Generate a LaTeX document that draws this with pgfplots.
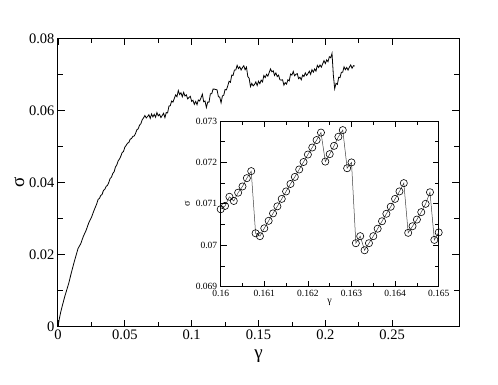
\documentclass[border=0pt]{standalone}
\usepackage{fontspec}
\setmainfont{Liberation Serif}
\usepackage{pgfplots}
\pgfplotsset{compat=1.18}

\pgfplotstableread{
x y
0 0
0.001 0.0022
0.002 0.0040
0.003 0.0055
0.005 0.0083
0.008 0.0120
0.010 0.0150
0.012 0.0178
0.015 0.0217
0.017 0.0230
0.019 0.0251
0.021 0.0267
0.023 0.0288
0.025 0.0303
0.027 0.0323
0.029 0.0341
0.030 0.0353
0.031 0.0356
0.032 0.0364
0.033 0.0367
0.034 0.0378
0.035 0.0381
0.036 0.0389
0.037 0.0392
0.038 0.0400
0.039 0.0411
0.040 0.0415
0.041 0.0425
0.042 0.0430
0.043 0.0443
0.044 0.0449
0.045 0.0460
0.046 0.0465
0.047 0.0473
0.048 0.0483
0.049 0.0486
0.050 0.0498
0.051 0.0503
0.052 0.0509
0.053 0.0511
0.054 0.0520
0.055 0.0522
0.056 0.0528
0.057 0.0529
0.058 0.0536
0.059 0.0546
0.060 0.0549
0.061 0.0559
0.062 0.0563
0.063 0.0574
0.064 0.0579
0.065 0.0586
0.066 0.0579
0.067 0.0583
0.068 0.0588
0.069 0.0578
0.070 0.0590
0.071 0.0582
0.072 0.0589
0.073 0.0581
0.074 0.0594
0.075 0.0585
0.076 0.0589
0.077 0.0580
0.078 0.0586
0.079 0.0592
0.080 0.0580
0.081 0.0594
0.082 0.0593
0.083 0.0612
0.084 0.0613
0.085 0.0626
0.086 0.0623
0.087 0.0633
0.088 0.0643
0.089 0.0638
0.090 0.0655
0.091 0.0644
0.092 0.0649
0.093 0.0638
0.094 0.0650
0.095 0.0640
0.096 0.0643
0.097 0.0632
0.098 0.0636
0.099 0.0639
0.100 0.0625
0.101 0.0628
0.102 0.0617
0.103 0.0625
0.104 0.0616
0.105 0.0629
0.106 0.0626
0.107 0.0635
0.108 0.0645
0.109 0.0624
0.110 0.0626
0.111 0.0608
0.112 0.0623
0.113 0.0623
0.114 0.0646
0.115 0.0646
0.116 0.0659
0.117 0.0659
0.118 0.0658
0.119 0.0657
0.120 0.0638
0.121 0.0637
0.122 0.0621
0.123 0.0640
0.124 0.0642
0.125 0.0658
0.126 0.0657
0.127 0.0668
0.128 0.0681
0.129 0.0678
0.130 0.0698
0.131 0.0697
0.132 0.0712
0.133 0.0712
0.134 0.0725
0.135 0.0716
0.136 0.0721
0.137 0.0712
0.138 0.0719
0.139 0.0724
0.140 0.0713
0.141 0.0720
0.142 0.0694
0.143 0.0689
0.144 0.0666
0.145 0.0675
0.146 0.0668
0.147 0.0672
0.148 0.0679
0.149 0.0669
0.150 0.0681
0.151 0.0674
0.152 0.0684
0.153 0.0679
0.154 0.0697
0.155 0.0691
0.156 0.0700
0.157 0.0695
0.158 0.0705
0.159 0.0715
0.160 0.0707
0.161 0.0710
0.162 0.0697
0.163 0.0704
0.164 0.0694
0.165 0.0698
0.166 0.0685
0.167 0.0684
0.168 0.0685
0.169 0.0670
0.170 0.0677
0.171 0.0673
0.172 0.0685
0.173 0.0682
0.174 0.0701
0.175 0.0698
0.176 0.0708
0.177 0.0696
0.178 0.0700
0.179 0.0702
0.180 0.0688
0.181 0.0692
0.182 0.0685
0.183 0.0698
0.184 0.0694
0.185 0.0704
0.186 0.0697
0.187 0.0702
0.188 0.0709
0.189 0.0700
0.190 0.0713
0.191 0.0706
0.192 0.0715
0.193 0.0709
0.194 0.0725
0.195 0.0719
0.196 0.0726
0.197 0.0720
0.198 0.0729
0.199 0.0738
0.200 0.0730
0.201 0.0740
0.202 0.0735
0.203 0.0749
0.204 0.0746
0.205 0.0758
0.206 0.0698
0.207 0.0660
0.208 0.0675
0.209 0.0672
0.210 0.0692
0.211 0.0691
0.212 0.0706
0.213 0.0706
0.214 0.0721
0.215 0.0713
0.216 0.0719
0.217 0.0712
0.218 0.0720
0.219 0.0726
0.220 0.0717
0.221 0.0724
0.222 0.0723
}\mainData

\pgfplotstableread{
x y
0.1600 0.07087
0.1601 0.07095
0.1602 0.07117
0.1603 0.07107
0.1604 0.07127
0.1605 0.07142
0.1606 0.07162
0.1607 0.07179
0.1608 0.07029
0.1609 0.07022
0.1610 0.07041
0.1611 0.07059
0.1612 0.07077
0.1613 0.07094
0.1614 0.07112
0.1615 0.07130
0.1616 0.07148
0.1617 0.07165
0.1618 0.07183
0.1619 0.07201
0.1620 0.07219
0.1621 0.07236
0.1622 0.07254
0.1623 0.07272
0.1624 0.07202
0.1625 0.07220
0.1626 0.07240
0.1627 0.07262
0.1628 0.07278
0.1629 0.07186
0.1630 0.07200
0.1631 0.07005
0.1632 0.07022
0.1633 0.06988
0.1634 0.07005
0.1635 0.07022
0.1636 0.07040
0.1637 0.07058
0.1638 0.07076
0.1639 0.07093
0.1640 0.07112
0.1641 0.07130
0.1642 0.07150
0.1643 0.07030
0.1644 0.07046
0.1645 0.07062
0.1646 0.07080
0.1647 0.07100
0.1648 0.07128
0.1649 0.07013
0.1650 0.07031
}\insetData

\begin{document}
\begin{tikzpicture}
\useasboundingbox (-58pt,-58.3pt) rectangle (440pt,326.7pt);
% main plot
\begin{axis}[
  at={(0pt,0pt)}, anchor=south west,
  scale only axis,
  width=401pt, height=288.4pt,
  xmin=0, xmax=0.3, ymin=0, ymax=0.08,
  xtick={0,0.05,0.1,0.15,0.2,0.25},
  ytick={0,0.02,0.04,0.06,0.08},
  minor tick num=1,
  tick align=inside,
  major tick length=7pt, minor tick length=4.5pt,
  scaled ticks=false,
  axis line style={line width=1pt},
  every tick/.style={line width=0.8pt, black},
  tick label style={font=\fontsize{14.5}{16}\selectfont},
  /pgf/number format/assume math mode=true,
  /pgf/number format/fixed,
  /pgf/number format/precision=3,
  xlabel={γ}, ylabel={σ},
  label style={font=\fontsize{19}{20}\selectfont},
  xlabel style={yshift=-3pt},
  ylabel style={yshift=-2pt},
]
\addplot[black, line width=0.8pt] table[x=x,y=y] {\mainData};
\end{axis}
% inset
\begin{axis}[
  at={(162.7pt,40pt)}, anchor=south west,
  scale only axis,
  width=218pt, height=165.7pt,
  axis background/.style={fill=white},
  xmin=0.16, xmax=0.165, ymin=0.069, ymax=0.073,
  xtick={0.16,0.161,0.162,0.163,0.164,0.165},
  ytick={0.069,0.07,0.071,0.072,0.073},
  minor tick num=1,
  tick align=inside,
  major tick length=6pt, minor tick length=4pt,
  scaled ticks=false,
  axis line style={line width=0.9pt},
  every tick/.style={line width=0.7pt, black},
  tick label style={font=\fontsize{9.5}{10}\selectfont},
  /pgf/number format/assume math mode=true,
  /pgf/number format/fixed,
  /pgf/number format/precision=3,
  xlabel={γ}, ylabel={σ},
  label style={font=\fontsize{10}{11}\selectfont},
  xlabel style={yshift=5pt},
  ylabel style={yshift=-1pt},
]
\addplot[black!75, line width=0.5pt, mark=o, mark size=3.6pt,
  mark options={black, line width=0.6pt}] table[x=x,y=y] {\insetData};
\end{axis}
\end{tikzpicture}
\end{document}
